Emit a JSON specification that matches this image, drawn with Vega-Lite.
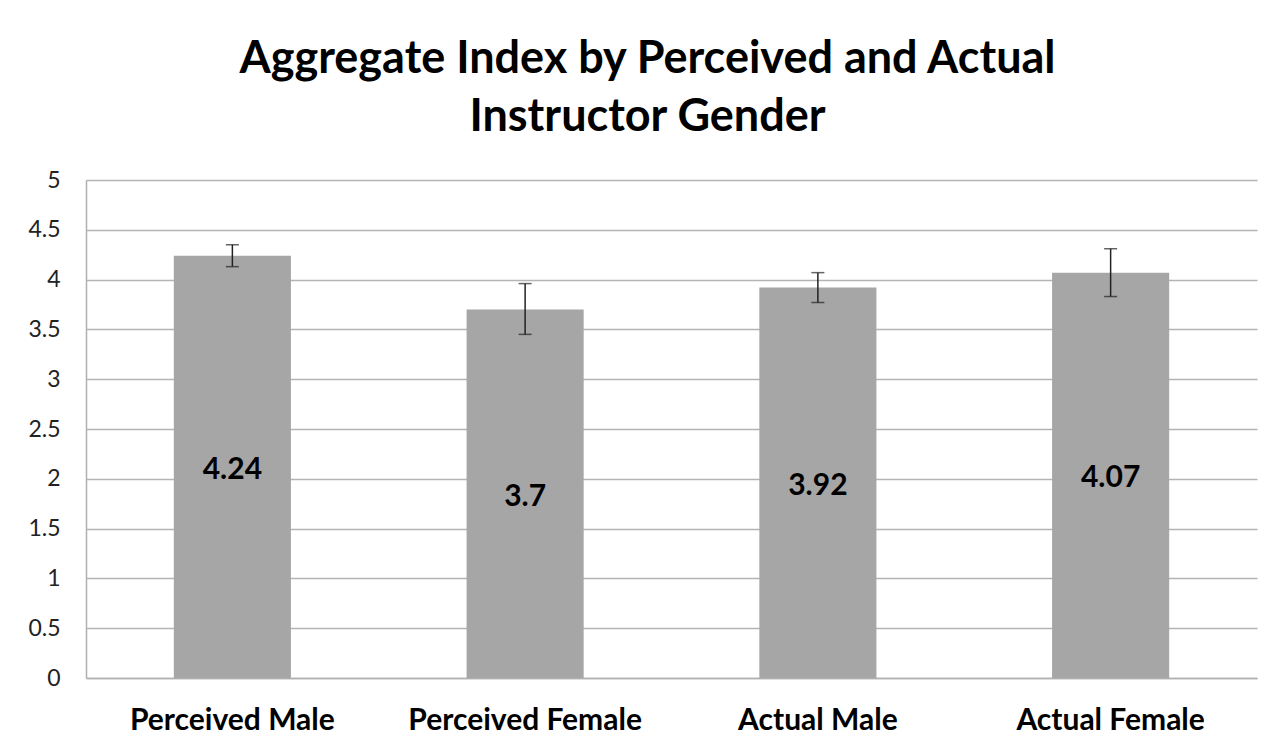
{
  "$schema": "https://vega.github.io/schema/vega-lite/v6.json",
  "autosize": {"type": "none"},
  "width": 1171,
  "height": 498,
  "padding": {"left": 86, "top": 180, "right": 28, "bottom": 70},
  "background": "white",
  "config": {"view": {"stroke": null}},
  "title": {
    "text": ["Aggregate Index by Perceived and Actual", "Instructor Gender"],
    "font": "Lato",
    "fontSize": 45,
    "fontWeight": "bold",
    "color": "black",
    "anchor": "middle",
    "frame": "group",
    "dx": -24,
    "dy": 43,
    "baseline": "alphabetic",
    "lineHeight": 58,
    "offset": 36
  },
  "data": {
    "values": [
      {"group": "Perceived Male", "value": 4.24, "lo": 4.13, "hi": 4.35},
      {"group": "Perceived Female", "value": 3.7, "lo": 3.45, "hi": 3.96},
      {"group": "Actual Male", "value": 3.92, "lo": 3.77, "hi": 4.07},
      {"group": "Actual Female", "value": 4.07, "lo": 3.83, "hi": 4.31}
    ]
  },
  "encoding": {
    "x": {
      "field": "group",
      "type": "nominal",
      "sort": null,
      "title": null,
      "scale": {"paddingInner": 0.6, "paddingOuter": 0.3},
      "axis": {
        "labelAngle": 0,
        "labelFont": "Lato",
        "labelFontSize": 30,
        "labelFontWeight": "bold",
        "labelColor": "black",
        "labelBaseline": "alphabetic",
        "labelPadding": 51,
        "labelLimit": 400,
        "ticks": false,
        "tickSize": 0,
        "domainColor": "#b0b0b0",
        "domainWidth": 1.5,
        "grid": false
      }
    }
  },
  "layer": [
    {
      "mark": {"type": "bar", "color": "#a6a6a6"},
      "encoding": {
        "y": {
          "field": "value",
          "type": "quantitative",
          "title": null,
          "scale": {"domain": [0, 5], "nice": false},
          "axis": {
            "values": [0, 0.5, 1, 1.5, 2, 2.5, 3, 3.5, 4, 4.5, 5],
            "format": "~g",
            "labelFont": "Lato",
            "labelFontSize": 23,
            "labelColor": "#222222",
            "labelPadding": 26,
            "ticks": false,
            "tickSize": 0,
            "domainColor": "#b0b0b0",
            "domainWidth": 1.5,
            "gridColor": "#b4b4b4",
            "gridWidth": 1.5
          }
        }
      }
    },
    {
      "mark": {"type": "rule", "color": "#222222", "strokeWidth": 1.5},
      "encoding": {
        "y": {"field": "lo", "type": "quantitative"},
        "y2": {"field": "hi"}
      }
    },
    {
      "mark": {"type": "tick", "orient": "horizontal", "size": 13, "thickness": 1.5, "color": "#222222"},
      "encoding": {"y": {"field": "lo", "type": "quantitative"}}
    },
    {
      "mark": {"type": "tick", "orient": "horizontal", "size": 13, "thickness": 1.5, "color": "#222222"},
      "encoding": {"y": {"field": "hi", "type": "quantitative"}}
    },
    {
      "transform": [{"calculate": "datum.value / 2", "as": "mid"}],
      "mark": {"type": "text", "font": "Lato", "fontSize": 30, "fontWeight": "bold", "color": "black", "baseline": "middle", "dy": 3},
      "encoding": {
        "y": {"field": "mid", "type": "quantitative"},
        "text": {"field": "value", "type": "quantitative"}
      }
    }
  ]
}
